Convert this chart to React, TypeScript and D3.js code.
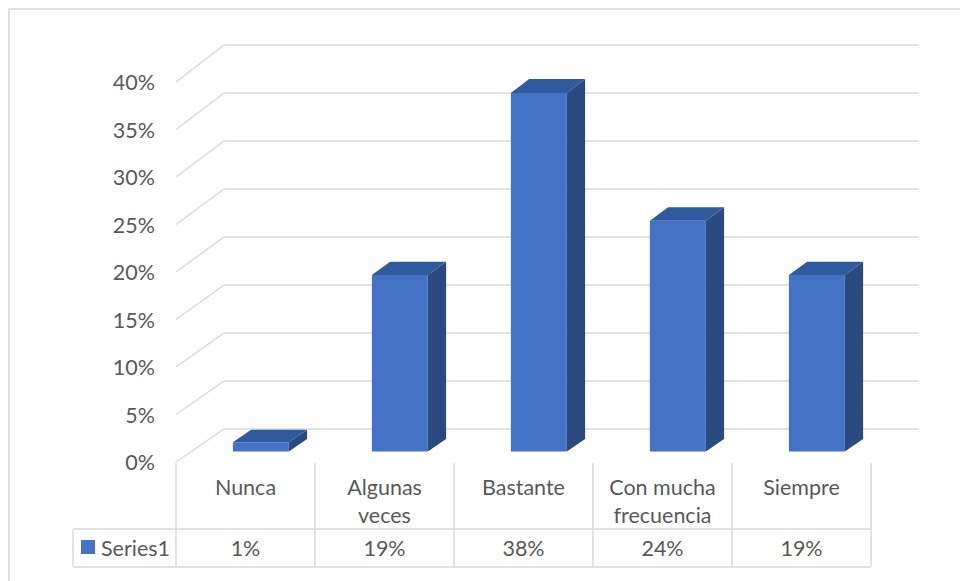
import React from "react";
import * as d3 from "d3";

const categories: string[][] = [["Nunca"], ["Algunas", "veces"], ["Bastante"], ["Con mucha", "frecuencia"], ["Siempre"]];
const values: number[] = [0.0096, 0.185, 0.376, 0.242, 0.185];
const tableLabels: string[] = ["1%", "19%", "38%", "24%", "19%"];
const ticks: number[] = [0, 0.05, 0.1, 0.15, 0.2, 0.25, 0.3, 0.35, 0.4];
const seriesName = "Series1";

const W = 960;
const H = 581;
const FONT = "Lato, 'Open Sans', sans-serif";
const TXT = "#595959";
const GRID = "#d9d9d9";
const FS = 21.5;

export default function App() {
  const keys = categories.map((c) => c.join(" "));
  const xs = d3.scaleBand<string>().domain(keys).range([176, 871]);
  const yF = d3.scaleLinear().domain([0, 0.4]).range([462, 82]);
  const yB = d3.scaleLinear().domain([0, 0.4]).range([429, 45]);
  const DX = 48;
  const P = (x: number, v: number, d: number): [number, number] => [x + DX * d, yF(v) * (1 - d) + yB(v) * d];
  const poly = (pts: [number, number][]) => pts.map((p) => p.join(",")).join(" ");
  const fmt = d3.format(".0%");
  const d0 = 0.32;
  const d1 = 0.7;
  const bw = 56;
  const bandW = xs.bandwidth();

  const tableLeft = 73;
  const tableRight = 871;
  const rowTop = 463;
  const rowMid = 529;
  const rowBot = 567;

  return (
    <svg width={W} height={H} style={{ position: "absolute", left: 0, top: 0 }} fontFamily={FONT}>
      <rect x={0} y={0} width={W} height={H} fill="#fff" />
      <rect x={9} y={9} width={960} height={600} fill="none" stroke={GRID} strokeWidth={1.5} />
      {ticks.map((t) => (
        <g key={t}>
          <line x1={176} y1={yF(t)} x2={176 + DX} y2={yB(t)} stroke={GRID} strokeWidth={1.4} />
          <line x1={176 + DX} y1={yB(t)} x2={871 + DX} y2={yB(t)} stroke={GRID} strokeWidth={1.4} />
          <text x={155} y={yF(t)} textAnchor="end" dominantBaseline="central" fontSize={FS} fill={TXT}>
            {fmt(t)}
          </text>
        </g>
      ))}
      {keys.map((k, i) => {
        const v = values[i];
        const x0 = (xs(k) as number) + (bandW - bw) / 2;
        const x1 = x0 + bw;
        const front = [P(x0, 0, d0), P(x1, 0, d0), P(x1, v, d0), P(x0, v, d0)] as [number, number][];
        const side = [P(x1, 0, d0), P(x1, 0, d1), P(x1, v, d1), P(x1, v, d0)] as [number, number][];
        const top = [P(x0, v, d0), P(x1, v, d0), P(x1, v, d1), P(x0, v, d1)] as [number, number][];
        return (
          <g key={k}>
            <polygon points={poly(side)} fill="#2A4A80" />
            <polygon points={poly(top)} fill="#31599E" />
            <polygon points={poly(front)} fill="#4472C4" />
          </g>
        );
      })}
      <g stroke={GRID} strokeWidth={1.5}>
        {keys.map((k) => (
          <line key={k} x1={xs(k) as number} y1={rowTop} x2={xs(k) as number} y2={rowBot} />
        ))}
        <line x1={tableRight} y1={rowTop} x2={tableRight} y2={rowBot} />
        <line x1={tableLeft} y1={rowMid} x2={tableLeft} y2={rowBot} />
        <line x1={tableLeft} y1={rowMid} x2={tableRight} y2={rowMid} />
        <line x1={tableLeft} y1={rowBot} x2={tableRight} y2={rowBot} />
      </g>
      {keys.map((k, i) => {
        const cx = (xs(k) as number) + bandW / 2;
        return (
          <g key={k}>
            {categories[i].map((line, j) => (
              <text key={j} x={cx} y={487 + j * 28} textAnchor="middle" dominantBaseline="central" fontSize={FS} fill={TXT}>
                {line}
              </text>
            ))}
            <text x={cx} y={548} textAnchor="middle" dominantBaseline="central" fontSize={FS} fill={TXT}>
              {tableLabels[i]}
            </text>
          </g>
        );
      })}
      <rect x={81} y={540} width={14} height={14} fill="#4472C4" />
      <text x={101} y={548} dominantBaseline="central" fontSize={FS} fill={TXT}>
        {seriesName}
      </text>
    </svg>
  );
}
